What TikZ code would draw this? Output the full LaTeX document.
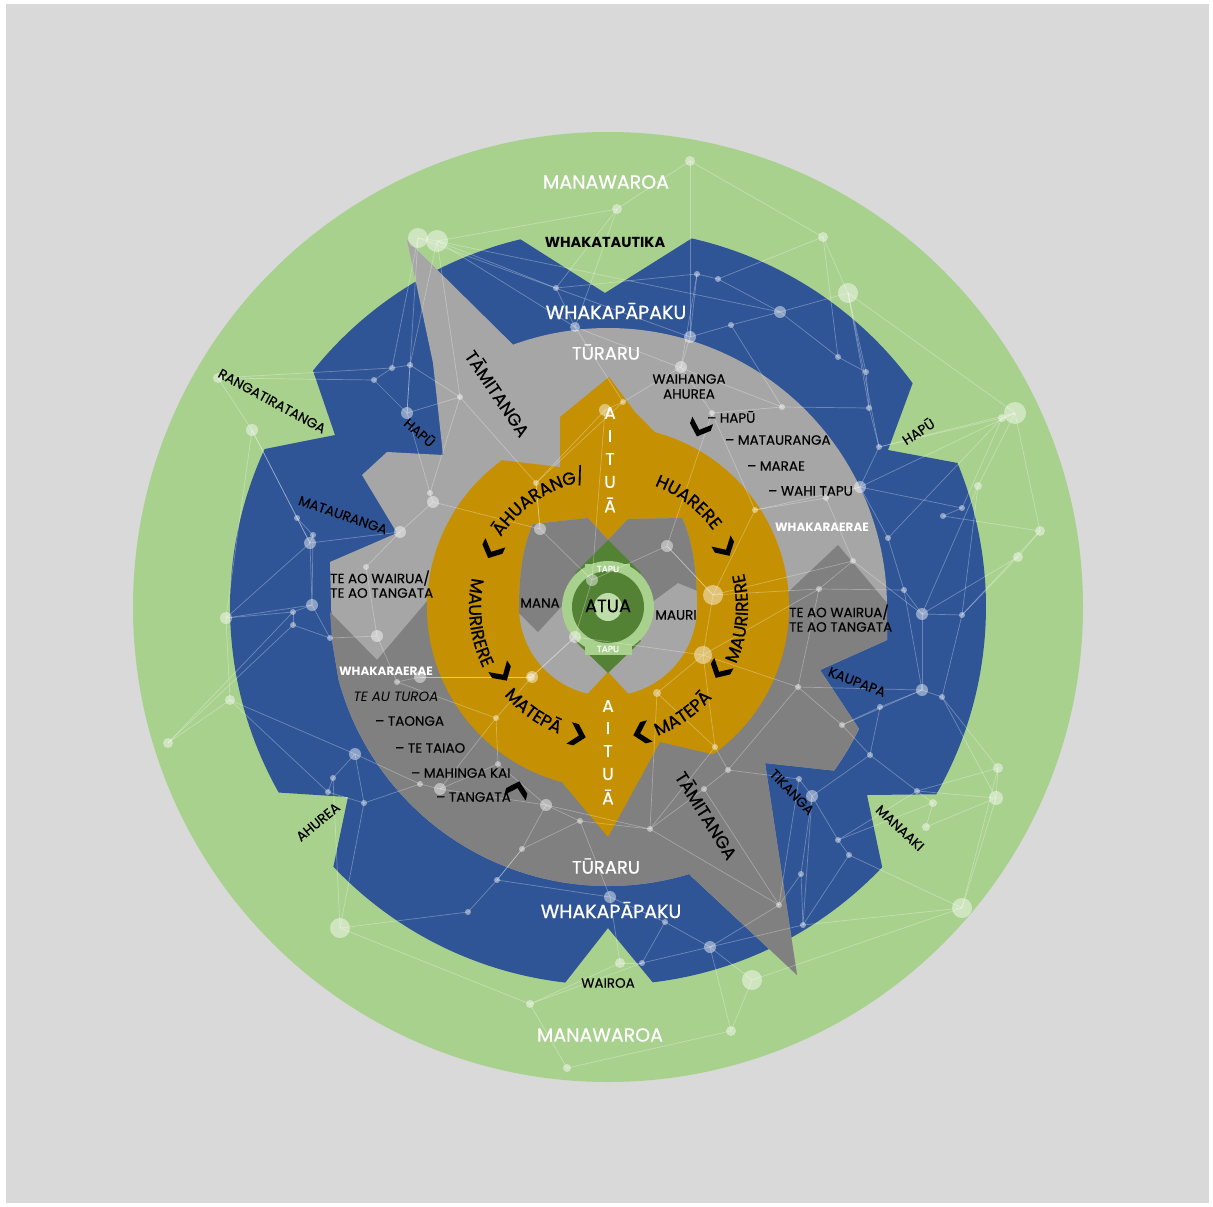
\documentclass[tikz,border=0pt]{standalone}
\usepackage{fontspec}
\setmainfont{Poppins}
\newfontfamily\medfont[FakeBold=0.8]{Poppins}
\newfontfamily\labfont[FakeBold=0.3]{Poppins}
\usetikzlibrary{decorations.text}

\definecolor{paper}{RGB}{217,217,217}
\definecolor{leaf}{RGB}{169,209,142}
\definecolor{navy}{RGB}{47,85,151}
\definecolor{lgray}{RGB}{166,166,166}
\definecolor{dgray}{RGB}{128,128,128}
\definecolor{gold}{RGB}{197,144,2}
\definecolor{moss}{RGB}{84,130,53}

\newcommand\fs[1]{\fontsize{#1}{#1}\selectfont}
\newcommand\chev[2]{\fill[black,shift={(#1)},rotate=#2] (-8,-11) -- (-1,-11) -- (9,0) -- (-1,11) -- (-8,11) -- (2,0) -- cycle;}
\newcommand\ringfont{\medfont\fs{17.5}}

\tikzset{
  every node/.style={inner sep=0pt},
  head/.style={text=white, font=\medfont\fs{19}},
  lbl/.style={text=black, font=\labfont\fs{13.5}},
  wlbl/.style={text=white, font=\fs{12}\bfseries},
  letter/.style={text=white, font=\medfont\fs{17}},
  net/.style={white, opacity=0.3, line width=0.7pt},
  dot/.style={white, opacity=0.45},
}

\def\dotlist{g1/690/161/5, g2/617/209/5, g3/418/238/10, g4/437/241/11, g5/823/237/5,
 g6/848/293/10, g7/1015/413/11, g8/1002/418/4, g9/1040/531/5, g10/1018/557/5,
 g11/998/768/5, g12/962/908/10, g13/218/378/5, g14/252/430/6, g15/226/618/6,
 g16/230/700/5, g17/168/743/5, g18/340/928/10, g19/530/1004/4, g20/567/1068/4,
 g21/731/1031/5, g22/752/980/10, g23/620/963/5, g25/996/798/7, g26/933/803/4,
 g27/926/827/4, g28/978/486/4,
 b1/556/288/3, b2/575/327/5, b3/697/274/3, b4/718/279/3, b5/780/312/6, b6/731/325/3,
 b7/690/337/6, b8/838/357/3, b9/866/372/3, b10/869/408/3, b11/782/407/3, b12/879/447/3,
 b13/860/487/6, b14/962/508/3, b15/943/516/3, b16/888/538/3, b17/904/590/3, b18/922/614/6,
 b19/962/615/3, b20/922/690/6, b21/942/697/3, b22/880/707/3, b23/870/755/3, b24/917/791/3,
 b25/799/779/3, b26/812/796/6, b27/838/840/3, b28/849/855/3, b29/801/874/3, b30/803/925/3,
 b31/665/922/3, b32/710/947/6, b33/642/963/3, b34/610/897/6, b35/497/880/3, b36/468/912/3,
 b37/355/754/6, b38/333/778/3, b39/328/792/3, b40/364/803/3, b41/293/625/3, b42/297/518/3,
 b43/313/535/3, b44/310/543/6, b45/312/605/6, b46/293/612/3, b48/330/638/3, b49/392/368/3,
 b50/410/365/3, b51/374/380/3, b52/407/413/6,
 y1/681/367/6, y2/712/413/3, y3/460/397/3, y4/433/502/6, y5/430/493/3, y6/536/483/3,
 y7/623/402/3, y8/605/410/6, y9/755/510/3, y10/540/529/6, y11/667/546/6, y12/592/580/6,
 y13/575/637/6, y14/713/595/10, y15/703/655/9, y16/531/677/4, y17/657/693/4, y18/377/636/6,
 y19/397/682/3, y20/420/677/6, y21/496/718/3, y22/532/677/6, y23/498/764/3, y24/420/784/3,
 y25/440/789/6, y26/546/805/6, y27/580/821/3, y28/522/849/3, y29/798/687/3, y30/842/725/3,
 y31/728/770/3, y32/704/789/3, y33/650/829/3, y34/779/905/3, y35/715/747/3, y36/400/532/6,
 y37/366/567/3, y38/826/498/3, y39/853/561/3, y40/819/589/3}

\def\linklist{g1/g2, g1/g5, g1/b7, g2/b2, g2/g4, g3/g4, g4/b1, g4/b2, g3/b49, g3/b52,
 g4/b50, b1/b3, b1/b2, b3/b4, b4/b5, b3/b7, b5/b6, b6/b7, b5/b8, b5/g6, g6/g5, g6/b9,
 b8/b9, b9/b10, b6/b11, b11/b10, b10/b12, b12/g7, g7/g8, g8/b12, g8/b14, b12/b13,
 b13/b16, b13/b14, b14/b15, b15/g9, g9/g10, g10/b19, b16/b17, b17/b18, b18/b19, b18/b20,
 b19/g28, g28/g7, b20/b21, b20/b22, b21/g11, b22/b23, b23/b24, b24/g26, g26/g27, g27/g25,
 g25/g11, g11/g12, b24/b27, b25/b26, b26/b27, b27/b28, b28/g12, b26/b29, b29/b30, b30/b32,
 b30/g12, b32/b31, b31/b34, b32/g22, g22/g21, g21/g20, g20/g19, g19/g23, g23/b33, b33/b32,
 b34/b35, b35/b36, b36/g18, g18/b38, b37/b38, b38/b39, b39/b40, b40/b37, b37/y24, b37/g16,
 g16/g17, g17/b41, g15/b45, b45/b46, b46/b41, b45/b44, b44/b43, b43/b42, b42/g14, g14/g13,
 g13/b51, b51/b49, b49/b50, b50/b52, b52/y3, b44/y36, b48/b45, b48/y18, y18/y37, y37/y36,
 y36/y4, y4/y5, y5/y3, y3/y6, y6/y7, y7/y1, y1/y2, y2/y9, y9/b13, y9/y38, y38/y39,
 y39/y40, y40/b17, y39/b18, y14/y40, y14/y11, y11/y12, y12/y10, y10/y6, y10/y4, y12/y13,
 y13/y16, y16/y20, y20/y19, y19/y18, y13/y22, y22/y21, y21/y23, y23/y25, y25/y24, y25/y26,
 y26/y27, y27/y28, y28/b35, y26/y33, y33/y32, y32/y31, y31/y35, y35/y17, y17/y15, y15/y14,
 y15/y29, y29/y30, y30/b22, y29/b20, y31/b25, y34/b29, y34/y33, y34/b32, y27/b34, y8/y7,
 y8/y6, y11/y2, g15/g16, g15/g14, b41/b48, g12/g25, b24/g25, y30/b23, b11/y2, y1/b7,
 g3/b7, g4/b5, b2/b11, b2/y7, b1/g2, g5/b4, g5/b8, g6/b10, g6/b12, g7/b13, g7/g9,
 g8/b16, g28/b18, g9/b19, g10/b18, b17/b20, b19/b21, b21/g25, g11/b24, b23/b26, b25/y34,
 b26/b30, b27/g26, b28/b30, b31/b33, b32/g21, b34/g23, b33/g19, b35/y28, y24/b40,
 b39/g16, b40/g18, g17/b46, b46/g15, b42/b44, b43/b45, b44/g15, g14/b44, g13/b49,
 b51/b52, b52/y5, y3/b50, y3/g4, y6/y10, y1/b3, y9/y14, y38/b13, y39/y14, y40/y15,
 y11/y14, y12/y8, y13/y15, y20/y22, y19/y21, y21/y25, y23/y26, y26/y28, y27/y33,
 y33/y35, y32/y34, y31/y29, y17/y33, y15/y35, y29/y40, y30/b20, g6/g7, g12/g22, g18/g19}

\begin{document}
\begin{tikzpicture}[x=1pt,y=-1pt]
\useasboundingbox (0,0) rectangle (1213,1207);
\fill[white] (0,0) rectangle (1213,1207);
\fill[paper] (6,4) rectangle (1209,1203);

% outer green disc
\fill[leaf] (608,607) circle[radius=475];

% blue gear ring with its notches
\fill[navy] (605,293) -- ([shift={(608,607)}]-77.2:378) arc[start angle=-77.2, end angle=-36.3, radius=378]
  -- (888,450) -- ([shift={(608,607)}]-22.4:378) arc[start angle=-22.4, end angle=29.7, radius=378]
  -- (867,795) -- ([shift={(608,607)}]43.5:378) arc[start angle=43.5, end angle=83.2, radius=378]
  -- (608,928) -- ([shift={(608,607)}]96.5:378) arc[start angle=96.5, end angle=136.6, radius=378]
  -- (348,797) -- ([shift={(608,607)}]150.6:378) arc[start angle=150.6, end angle=204.7, radius=378]
  -- (335,435) -- ([shift={(608,607)}]218.7:378) arc[start angle=218.7, end angle=256.6, radius=378]
  -- cycle;

% grey disc with the two spikes
\fill[lgray] (407,240) -- ([shift={(608,607)}]250.1:279) arc[start angle=250.1, end angle=359.2, radius=279]
  -- (887,640) -- (820,670) -- ([shift={(608,607)}]25.9:279) arc[start angle=25.9, end angle=35.9, radius=279]
  -- (765,763) -- (797,975) -- (690,875) -- ([shift={(608,607)}]73:279) arc[start angle=73, end angle=165, radius=279]
  -- (332,640) -- (330,562) -- (397,533) -- (362,475) -- (387,452) -- (443,455) -- (433,363) -- cycle;

% darker lower half of the grey disc
\fill[dgray] (330,612) -- (377,660) -- (428,600) -- (785,595) -- (838,545) -- (887,603) -- (887,640) -- (820,670)
  -- ([shift={(608,607)}]25.9:279) arc[start angle=25.9, end angle=35.9, radius=279]
  -- (765,763) -- (797,975) -- (690,875) -- ([shift={(608,607)}]73:279) arc[start angle=73, end angle=165, radius=279]
  -- (332,640) -- cycle;

% gold ring
\fill[gold] (609,377) -- (635,412) -- ([shift={(608,607)}]-75:181) arc[start angle=-75, end angle=54.5, radius=181]
  -- (660,742) -- (608,837) -- ([shift={(608,607)}]104.8:181) arc[start angle=104.8, end angle=234.2, radius=181]
  -- (560,467) -- (560,417) -- cycle;

% inner grey core
\fill[lgray] (533,524) -- (588,518) -- (608,540) -- (628,519) -- (682,518)
  .. controls (693,540) and (697,575) .. (697,607) arc[start angle=0, end angle=180, radius=89]
  .. controls (519,575) and (523,545) .. cycle;
\begin{scope}
  \clip (533,524) -- (588,518) -- (608,540) -- (628,519) -- (682,518)
    .. controls (693,540) and (697,575) .. (697,607) arc[start angle=0, end angle=180, radius=89]
    .. controls (519,575) and (523,545) .. cycle;
  \fill[dgray] (500,500) -- (500,612) -- (518,612) -- (538,632) -- (562,606) -- (648,605) -- (678,583)
    -- (720,600) -- (720,500) -- cycle;
\end{scope}
\fill[gold] (582,700) -- (608,672) -- (634,700) -- cycle;

% green centre: two diamond tips, light ring with tabs, dark disc
\fill[moss] (608,540) -- (575,573) -- (608,607) -- (641,573) -- cycle;
\fill[moss] (608,673) -- (575,641) -- (608,607) -- (641,641) -- cycle;
\fill[leaf] (608,607) circle[radius=46];
\fill[leaf] (585,564) rectangle (630,600);
\fill[leaf] (585,615) rectangle (632,655);
\fill[moss] (608,607) circle[radius=36];
\fill[leaf!75!white] (608,607) circle[radius=14];

% constellation network
\foreach \n/\x/\y/\r in \dotlist { \coordinate (\n) at (\x,\y); }
\foreach \a/\b in \linklist { \draw[net] (\a) -- (\b); }
\foreach \n/\x/\y/\r in \dotlist { \fill[dot] (\n) circle[radius=\r]; }

% labels on the outer rings
\node[head] (manTop) at (606,182) {MANAWAROA};
\node[head] (manBot) at (600,1035) {MANAWAROA};
\node[font=\fs{14.5}\bfseries] (wkt) at (605,242) {WHAKATAUTIKA};
\node[head] (wppTop) at (616,311) {WHAKAPĀPAKU};
\node[head] (wppBot) at (611,910) {WHAKAPĀPAKU};
\node[head, font=\medfont\fs{18}] (turTop) at (606,352) {TŪRARU};
\node[head, font=\medfont\fs{18}] (turBot) at (606,866) {TŪRARU};
\node[lbl] (wairoa) at (608,983) {WAIROA};
\node[lbl, rotate=-28.5] (rang) at (272,401) {RANGATIRATANGA};
\node[lbl, rotate=-41] (hapuL) at (420,432) {HAPŪ};
\node[lbl, rotate=33] (hapuR) at (918,431) {HAPŪ};
\node[lbl, rotate=-19] (matL) at (343,515) {MATAURANGA};
\node[lbl, rotate=-21] (kaup) at (857,682) {KAUPAPA};
\node[lbl, rotate=-46] (tik) at (792,792) {TIKANGA};
\node[lbl, rotate=-43] (manaaki) at (900,828) {MANAAKI};
\node[lbl, rotate=39.5] (ahureaL) at (318,822) {AHUREA};
\node[lbl, font=\labfont\fs{17.5}, rotate=-56] (tamA) at (498,393) {TĀMITANGA};
\node[lbl, font=\labfont\fs{17.5}, rotate=-58] (tamB) at (707,815) {TĀMITANGA};

% labels in the grey ring
\node[lbl] (waihanga) at (689,379) {WAIHANGA};
\node[lbl] (ahureaR) at (689,394) {AHUREA};
\node[lbl, anchor=west] (liHapu) at (707,417) {– HAPŪ};
\node[lbl, anchor=west] (liMat) at (725,440) {– MATAURANGA};
\node[lbl, anchor=west] (liMarae) at (747,466) {– MARAE};
\node[lbl, anchor=west] (liWahi) at (768,491) {– WAHI TAPU};
\node[wlbl] (whakaR) at (822,527) {WHAKARAERAE};
\node[lbl, anchor=west] (teaoL1) at (330,578) {TE AO WAIRUA/};
\node[lbl, anchor=west] (teaoL2) at (330,593) {TE AO TANGATA};
\node[lbl, anchor=west] (teaoR1) at (789,612) {TE AO WAIRUA/};
\node[lbl, anchor=west] (teaoR2) at (789,627) {TE AO TANGATA};
\node[wlbl] (whakaL) at (386,671) {WHAKARAERAE};
\node[lbl, font=\fs{13.5}\itshape] (teau) at (396,697) {TE AU TUROA};
\node[lbl, anchor=west] (liTaonga) at (375,721) {– TAONGA};
\node[lbl, anchor=west] (liTaiao) at (395,748) {– TE TAIAO};
\node[lbl, anchor=west] (liMahinga) at (411,773) {– MAHINGA KAI};
\node[lbl, anchor=west] (liTangata) at (436,797) {– TANGATA};

% vertical AITUĀ columns
\foreach \c/\y [count=\i] in {A/413, I/436, T/459, U/482, Ā/505}
  { \node[letter] (aiTop\i) at (610,\y) {\c}; }
\foreach \c/\y [count=\i] in {A/706, I/728, T/751, U/774, Ā/797}
  { \node[letter] (aiBot\i) at (608,\y) {\c}; }

% words curving round the gold ring
\path[decorate, decoration={text along path, text align=center, text={|\ringfont|ĀHUARANG/}}]
  ([shift={(608,607)}]196:128) arc[start angle=196, end angle=277, radius=128];
\path[decorate, decoration={text along path, text align=center, text={|\ringfont|HUARERE}}]
  ([shift={(608,607)}]-92.5:130) arc[start angle=-92.5, end angle=-12.5, radius=130];
\path[decorate, decoration={text along path, text align=center, text={|\ringfont|MAURIRERE}}]
  ([shift={(608,607)}]45:140) arc[start angle=45, end angle=-35, radius=140];
\path[decorate, decoration={text along path, text align=center, text={|\ringfont|MATEPĀ}}]
  ([shift={(608,607)}]95:138) arc[start angle=95, end angle=15, radius=138];
\path[decorate, decoration={text along path, text align=center, text={|\ringfont|MAURIRERE}}]
  ([shift={(608,607)}]213:139) arc[start angle=213, end angle=133, radius=139];
\path[decorate, decoration={text along path, text align=center, text={|\ringfont|MATEPĀ}}]
  ([shift={(608,607)}]165.5:136) arc[start angle=165.5, end angle=85.5, radius=136];

% centre labels
\node[lbl, font=\labfont\fs{13.5}] (mana) at (540,603) {MANA};
\node[lbl, font=\labfont\fs{13.5}] (mauri) at (676,615) {MAURI};
\node[lbl, font=\labfont\fs{18}] (atua) at (608,606) {ATUA};
\node[text=white, font=\medfont\fs{9}] (tapuT) at (608,569) {TAPU};
\node[text=white, font=\medfont\fs{9}] (tapuB) at (608,649) {TAPU};

% flow chevrons
\chev{492,550}{-115}
\chev{725,548}{-60}
\chev{502,673}{-58}
\chev{720,670}{-119}
\chev{577,735}{-15}
\chev{642,733}{-165}
\chev{700,428}{-110}
\chev{517,790}{75}
\end{tikzpicture}
\end{document}
